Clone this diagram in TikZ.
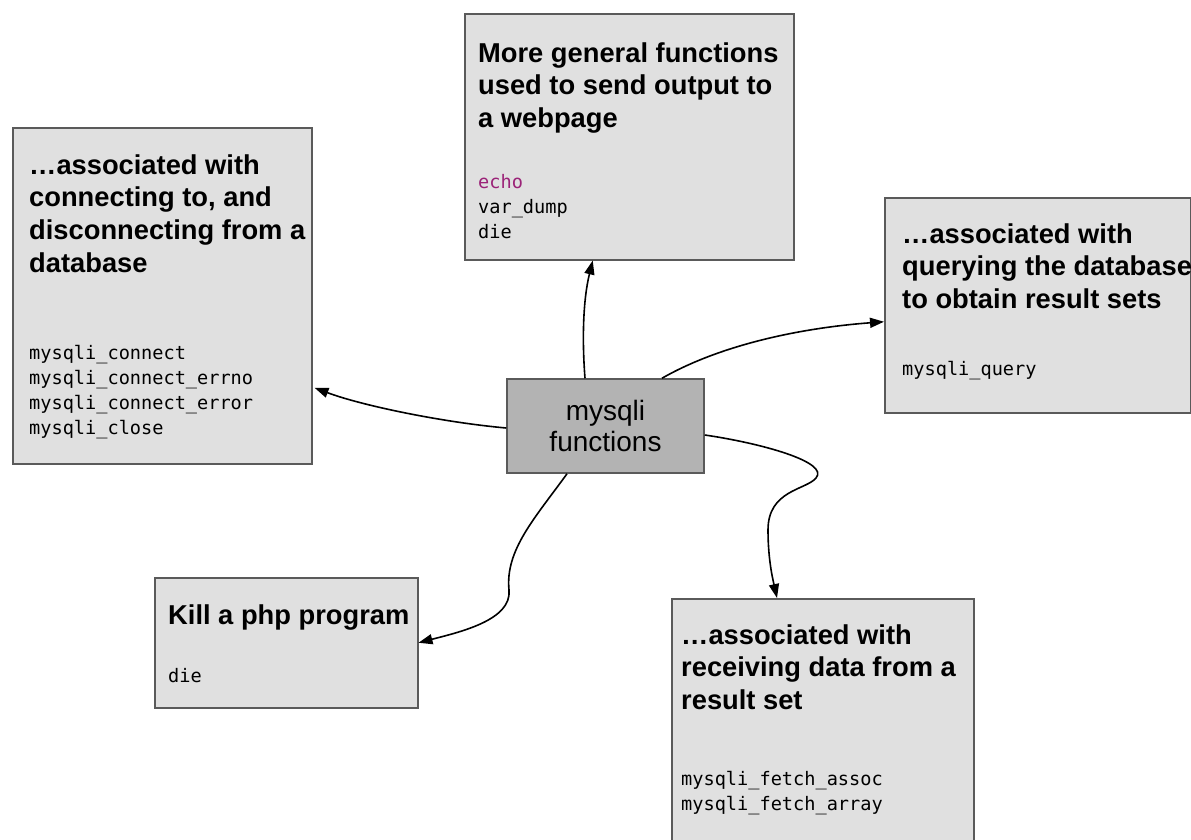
\documentclass[tikz,border=0pt]{standalone}
\usepackage{fontspec}
\setmainfont{Liberation Sans}
\newfontfamily\codefont{DejaVu Sans Mono}
\usetikzlibrary{arrows.meta,calc}

\definecolor{boxfill}{RGB}{224,224,224}
\definecolor{hubfill}{RGB}{179,179,179}
\definecolor{boxline}{RGB}{90,90,90}
\definecolor{keyword}{RGB}{155,35,120}

% heading and code blocks: the baseline of the block is that of its first line
\newcommand\headblock[1]{\vtop{\fontsize{27.3pt}{32.7pt}\selectfont\bfseries #1}}
\newcommand\codeblock[1]{\vtop{\fontsize{18.6pt}{25.3pt}\selectfont\codefont #1}}

\tikzset{
  panel/.style={draw=boxline, line width=1.5pt, fill=boxfill, rectangle,
                inner sep=0pt, anchor=north west},
  hub/.style={draw=boxline, line width=1.5pt, fill=hubfill, rectangle,
              inner sep=0pt, minimum width=197pt, minimum height=94pt,
              align=center, font=\fontsize{28pt}{31pt}\selectfont},
  txt/.style={anchor=base west, inner sep=0pt},
  link/.style={line width=1.6pt, black, -{Triangle[length=14pt,width=10pt]}}
}

\begin{document}
\begin{tikzpicture}[x=1pt,y=-1pt]
\useasboundingbox (0,0) rectangle (1191,839);
\clip (0,0) rectangle (1191,839);

% category panels
\node[panel, minimum width=299pt, minimum height=336pt] (A) at (12,127) {};
\node[panel, minimum width=329pt, minimum height=246pt] (B) at (464,13) {};
\node[panel, minimum width=306pt, minimum height=215pt] (C) at (884,197) {};
\node[panel, minimum width=263pt, minimum height=130pt] (E) at (154,577) {};
\node[panel, minimum width=302pt, minimum height=280pt] (F) at (671,598) {};

% central node
\node[hub] (D) at (605.5,426) {mysqli\\functions};

% connectors from the central node
\draw[link] ($(D.west)+(0,2)$) .. controls (440,422) and (360,405) .. ($(A.east)+(2,92)$);
\draw[link] ($(D.north)+(-20.5,0)$) .. controls (582,340) and (583,300) .. ($(B.south)+(-36.5,0)$);
\draw[link] ($(D.north)+(56.5,0)$) .. controls (720,345) and (800,328) .. ($(C.west)+(0,16.5)$);
\draw[link] ($(D.east)+(0,9)$) .. controls (760,443) and (830,462) .. (816,478)
            .. controls (806,490) and (768,490) .. (768,530)
            .. controls (768,560) and (773,580) .. ($(F.north west)+(106,0)$);
\draw[link] ($(D.south)+(-38.5,0)$) .. controls (535,518) and (505,550) .. (509,590)
            .. controls (512,620) and (460,632) .. (E.east);

% panel texts
\node[txt] (Ahead) at (29,174) {\headblock{\hbox{…associated with}\hbox{connecting to, and}\hbox{disconnecting from a}\hbox{database}}};
\node[txt] (Acode) at (29,359) {\codeblock{\hbox{mysqli\_connect}\hbox{mysqli\_connect\_errno}\hbox{mysqli\_connect\_error}\hbox{mysqli\_close}}};

\node[txt] (Bhead) at (478,62) {\headblock{\hbox{More general functions}\hbox{used to send output to}\hbox{a webpage}}};
\node[txt] (Bcode) at (478,188) {\codeblock{\hbox{\textcolor{keyword}{echo}}\hbox{var\_dump}\hbox{die}}};

\node[txt] (Chead) at (902,243) {\headblock{\hbox{…associated with}\hbox{querying the database}\hbox{to obtain result sets}}};
\node[txt] (Ccode) at (902,375) {\codeblock{\hbox{mysqli\_query}}};

\node[txt] (Ehead) at (168,624) {\headblock{\hbox{Kill a php program}}};
\node[txt] (Ecode) at (168,682) {\codeblock{\hbox{die}}};

\node[txt] (Fhead) at (681,644) {\headblock{\hbox{…associated with}\hbox{receiving data from a}\hbox{result set}}};
\node[txt] (Fcode) at (681,785) {\codeblock{\hbox{mysqli\_fetch\_assoc}\hbox{mysqli\_fetch\_array}}};
\end{tikzpicture}
\end{document}
